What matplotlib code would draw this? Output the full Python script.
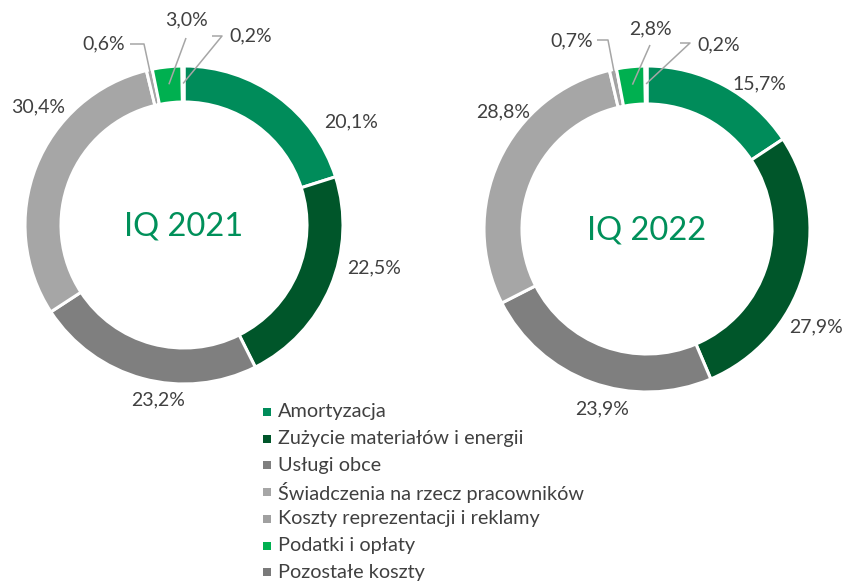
import numpy as np
import matplotlib.pyplot as plt

plt.rcParams['font.family'] = ['Lato', 'DejaVu Sans']

W, H = 846, 583

categories = ['Amortyzacja', 'Zużycie materiałów i energii', 'Usługi obce',
              'Świadczenia na rzecz pracowników', 'Koszty reprezentacji i reklamy',
              'Podatki i opłaty', 'Pozostałe koszty']
colors = ['#008C5A', '#00562A', '#7F7F7F', '#A6A6A6', '#A0A0A0', '#00B050', '#7A7A7A']

years = ['IQ 2021', 'IQ 2022']
shares_2021 = [20.1, 22.5, 23.2, 30.4, 0.6, 3.0, 0.2]
shares_2022 = [15.7, 27.9, 23.9, 28.8, 0.7, 2.8, 0.2]

# layout (image pixel coords, y down)
donuts = [
    dict(vals=shares_2021, cx=184, cy=225, r=159, w=36,
         labels=[(351, 122), (374, 268), (158, 400), (38, 107), (104, 44), (186, 20), (251, 36)],
         # leader: index -> (points from label to elbow, end radius frac)
         leaders={4: ([(130, 44), (144, 44)], 0.80),
                  5: ([(186, 38)], 0.89),
                  6: ([(212, 36), (222, 36)], 0.89)}),
    dict(vals=shares_2022, cx=647, cy=229, r=163, w=38,
         labels=[(759, 84), (816, 327), (602, 409), (503, 112), (572, 41), (650, 29), (719, 45)],
         leaders={4: ([(597, 40), (608, 40)], 0.80),
                  5: ([(650, 45)], 0.89),
                  6: ([(680, 43), (690, 43)], 0.89)}),
]
leg_x, leg_y0, leg_dy = 267, 412, 26.7

fig = plt.figure(figsize=(W / 100, H / 100), dpi=100)
ax = fig.add_axes([0, 0, 1, 1])

txt_col = '#404040'
for d, year in zip(donuts, years):
    wedges, _ = ax.pie(d['vals'], colors=colors, startangle=90, counterclock=False,
                       radius=d['r'], center=(d['cx'], H - d['cy']),
                       wedgeprops=dict(width=d['w'], edgecolor='white', linewidth=2.2))
    ax.text(d['cx'], H - d['cy'] - 2, year, ha='center', va='center',
            fontsize=23.5, color='#00905A')
    cum = np.cumsum([0] + d['vals'][:-1])
    for i, v in enumerate(d['vals']):
        lx, ly = d['labels'][i]
        ax.text(lx, H - ly, f'{v:.1f}%'.replace('.', ','), ha='center', va='center',
                fontsize=14, color=txt_col)
        if i in d['leaders']:
            pts, frac = d['leaders'][i]
            th = np.deg2rad(90 - 360 * (cum[i] + v / 2) / 100)
            ex = d['cx'] + frac * d['r'] * np.cos(th)
            ey = d['cy'] - frac * d['r'] * np.sin(th)
            xs = [p[0] for p in pts] + [ex]
            ys = [H - p[1] for p in pts] + [H - ey]
            ax.plot(xs, ys, color='#A6A6A6', lw=1.1, solid_capstyle='butt')

# legend
for i, (lab, c) in enumerate(zip(categories, colors)):
    y = H - (leg_y0 + i * leg_dy)
    ax.scatter([leg_x], [y], marker='s', s=36, color=c, linewidths=0)
    ax.text(leg_x + 11, y, lab, ha='left', va='center', fontsize=14.3, color=txt_col)

ax.set_xlim(0, W)
ax.set_ylim(0, H)
ax.set_aspect('auto')
ax.axis('off')

fig.savefig('out.png', dpi=100)
